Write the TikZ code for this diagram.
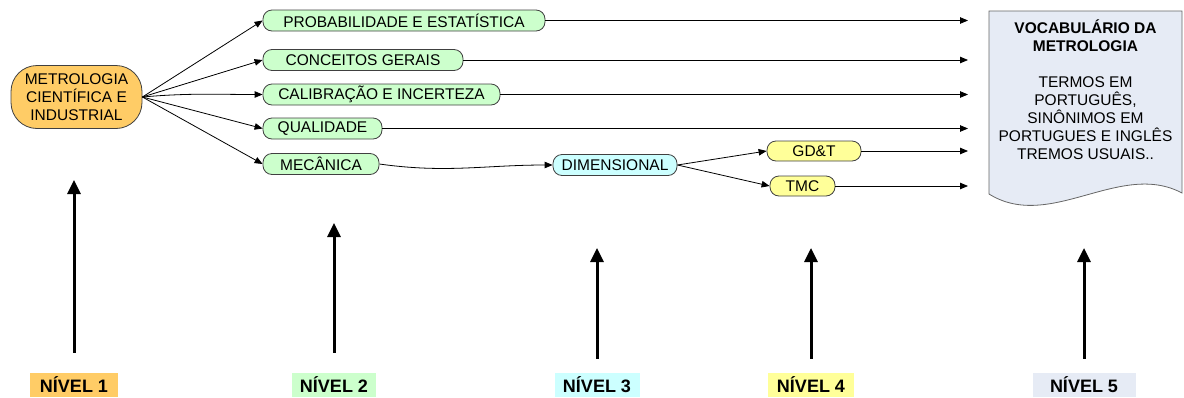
\documentclass[tikz,border=0pt]{standalone}
\usepackage{fontspec}
\setmainfont{Liberation Sans}
\usetikzlibrary{arrows.meta, positioning}

\definecolor{nivorange}{HTML}{FFCC66}
\definecolor{nivgreen}{HTML}{CCFFCC}
\definecolor{nivcyan}{HTML}{CCFFFF}
\definecolor{nivyellow}{HTML}{FFFF99}
\definecolor{nivblue}{HTML}{E6EBF5}

\tikzset{
  box/.style={draw=black!75, line width=0.8pt, rounded corners=9pt, minimum height=21pt,
    inner sep=0pt, font=\fontsize{15.5}{18}\selectfont},
  conn/.style={-{Triangle[length=8pt,width=6.5pt]}, line width=0.8pt},
  up/.style={-{Triangle[length=14pt,width=13pt]}, line width=3pt},
  tag/.style={font=\bfseries\fontsize{18}{20}\selectfont, minimum height=24pt, inner sep=0pt}
}

\begin{document}
\begin{tikzpicture}[x=1pt, y=-1pt]
          \useasboundingbox (0,0) rectangle (1184,397);

          % Nodes
          \node[box, fill=nivorange, rounded corners=26pt, minimum width=131pt, minimum height=63pt,
            align=center] (met) at (76.5,97) {METROLOGIA\\CIENTÍFICA E\\INDUSTRIAL};
          \node[box, fill=nivgreen, minimum width=282pt] (prob) at (404,20.5) {PROBABILIDADE E ESTATÍSTICA};
          \node[box, fill=nivgreen, minimum width=200pt] (conc) at (363,60) {CONCEITOS GERAIS};
          \node[box, fill=nivgreen, minimum width=237pt] (calib) at (381.5,94.5) {CALIBRAÇÃO E INCERTEZA};
          \node[box, fill=nivgreen, minimum width=119pt] (qual) at (322.5,128.5) {QUALIDADE};
          \node[box, fill=nivgreen, minimum width=116pt] (mec) at (321,164) {MECÂNICA};
          \node[box, fill=nivcyan, minimum width=124pt] (dim) at (615,165) {DIMENSIONAL};
          \node[box, fill=nivyellow, minimum width=94pt, minimum height=20pt] (gdt) at (814,151) {GD\&T};
          \node[box, fill=nivyellow, minimum width=65pt, minimum height=20pt] (tmc) at (802.5,186) {TMC};

          % Document
          \draw[draw=black!60, line width=0.8pt, fill=nivblue]
            (989,11) -- (1182,11) -- (1182,193)
            .. controls (1120,160) and (1050,232) .. (989,194) -- cycle;
          \node[align=center, font=\fontsize{15.5}{18}\selectfont] (voc) at (1085.5,90)
            {\textbf{VOCABULÁRIO DA}\\\textbf{METROLOGIA}\\[18pt]TERMOS EM\\PORTUGUÊS,\\SINÔNIMOS EM\\PORTUGUES E INGLÊS\\TREMOS USUAIS..};

          % Level tags
          \node[tag, fill=nivorange, minimum width=88pt] (n1) at (74,385) {NÍVEL 1};
          \node[tag, fill=nivgreen, minimum width=84pt] (n2) at (334,385) {NÍVEL 2};
          \node[tag, fill=nivcyan, minimum width=85pt] (n3) at (597,385) {NÍVEL 3};
          \node[tag, fill=nivyellow, minimum width=86pt] (n4) at (811,385) {NÍVEL 4};
          \node[tag, fill=nivblue, minimum width=103pt] (n5) at (1084,385) {NÍVEL 5};

          \coordinate (t1) at (74,180);
          \coordinate (t2) at (334,223);
          \coordinate (t3) at (597,248);
          \coordinate (t4) at (811,248);
          \coordinate (t5) at (1084,248);

          % Edges
          \draw[conn] (met.east) -- (prob.west);
          \draw[conn] (met.east) -- (conc.west);
          \draw[conn] (met.east) to[out=5,in=180] (calib.west);
          \draw[conn] (met.east) -- (qual.west);
          \draw[conn] (met.east) -- (mec.west);
          \draw[conn] (mec.east) to[out=-8,in=180] (dim.west);
          \draw[conn] (dim.east) -- (gdt.west);
          \draw[conn] (dim.east) -- (tmc.west);

          \coordinate (e1) at (968,20.5);
          \coordinate (e2) at (968,60);
          \coordinate (e3) at (968,94.5);
          \coordinate (e4) at (968,128.5);
          \coordinate (e5) at (968,151);
          \coordinate (e6) at (968,186);
          \draw[conn] (prob.east) -- (e1);
          \draw[conn] (conc.east) -- (e2);
          \draw[conn] (calib.east) -- (e3);
          \draw[conn] (qual.east) -- (e4);
          \draw[conn] (gdt.east) -- (e5);
          \draw[conn] (tmc.east) -- (e6);

          \draw[up, shorten <=20pt] (n1) -- (t1);
          \draw[up, shorten <=20pt] (n2) -- (t2);
          \draw[up, shorten <=14pt] (n3) -- (t3);
          \draw[up, shorten <=14pt] (n4) -- (t4);
          \draw[up, shorten <=14pt] (n5) -- (t5);

        \end{tikzpicture}
\end{document}
